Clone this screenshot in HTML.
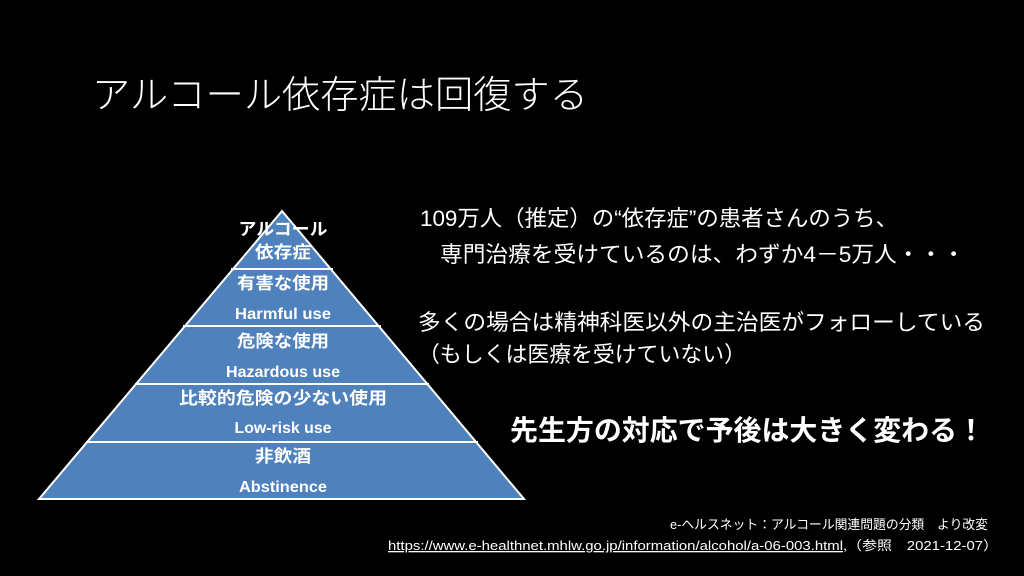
<!DOCTYPE html>
<html><head><meta charset="utf-8"><style>
body{margin:0;width:1024px;height:576px;background:#000;overflow:hidden}
svg{position:absolute;left:0;top:0}
.t{font-family:"Liberation Sans","Noto Sans CJK JP",sans-serif;fill:#fff}
</style></head><body>
<svg width="1024" height="576" viewBox="0 0 1024 576">
<text class="t" x="92" y="108" font-size="38" font-weight="300" textLength="496" lengthAdjust="spacingAndGlyphs">アルコール依存症は回復する</text>
<polygon points="282,211 524,499 39,499" fill="#4f81bd" stroke="#fff" stroke-width="2"/>
<g stroke="#fff" stroke-width="2">
<line x1="231" y1="269" x2="333" y2="269"/>
<line x1="183" y1="326" x2="381" y2="326"/>
<line x1="135" y1="384" x2="429" y2="384"/>
<line x1="86" y1="442" x2="478" y2="442"/>
</g>
<g class="t" font-weight="bold" font-size="17" text-anchor="middle" lengthAdjust="spacingAndGlyphs">
<text x="283" y="235" textLength="89" lengthAdjust="spacingAndGlyphs">アルコール</text>
<text x="283" y="258" textLength="56" lengthAdjust="spacingAndGlyphs">依存症</text>
<text x="283" y="289" textLength="92" lengthAdjust="spacingAndGlyphs">有害な使用</text>
<text x="283" y="319" font-size="16" textLength="96" lengthAdjust="spacingAndGlyphs">Harmful use</text>
<text x="283" y="347" textLength="92" lengthAdjust="spacingAndGlyphs">危険な使用</text>
<text x="283" y="377" font-size="16" textLength="114" lengthAdjust="spacingAndGlyphs">Hazardous use</text>
<text x="283" y="404" textLength="208" lengthAdjust="spacingAndGlyphs">比較的危険の少ない使用</text>
<text x="283" y="433" font-size="16" textLength="97" lengthAdjust="spacingAndGlyphs">Low-risk use</text>
<text x="283" y="462" textLength="56" lengthAdjust="spacingAndGlyphs">非飲酒</text>
<text x="283" y="492" font-size="16" textLength="88" lengthAdjust="spacingAndGlyphs">Abstinence</text>
</g>
<g class="t" font-size="22">
<text x="420" y="226" textLength="478" lengthAdjust="spacingAndGlyphs">109万人（推定）の“依存症”の患者さんのうち、</text>
<text x="440" y="262" textLength="525" lengthAdjust="spacingAndGlyphs">専門治療を受けているのは、わずか4－5万人・・・</text>
<text x="418" y="330" textLength="567" lengthAdjust="spacingAndGlyphs">多くの場合は精神科医以外の主治医がフォローしている</text>
<text x="418" y="362" textLength="328" lengthAdjust="spacingAndGlyphs">（もしくは医療を受けていない）</text>
</g>
<text class="t" x="510" y="440" font-size="28" font-weight="bold" textLength="475" lengthAdjust="spacingAndGlyphs">先生方の対応で予後は大きく変わる！</text>
<g class="t" font-size="13">
<text x="670" y="529" textLength="318" lengthAdjust="spacingAndGlyphs">e-ヘルスネット：アルコール関連問題の分類　より改変</text>
<text x="388" y="550" textLength="610" lengthAdjust="spacingAndGlyphs"><tspan text-decoration="underline">https://www.e-healthnet.mhlw.go.jp/information/alcohol/a-06-003.html</tspan>,（参照　2021-12-07）</text>
</g>
</svg>
</body></html>
